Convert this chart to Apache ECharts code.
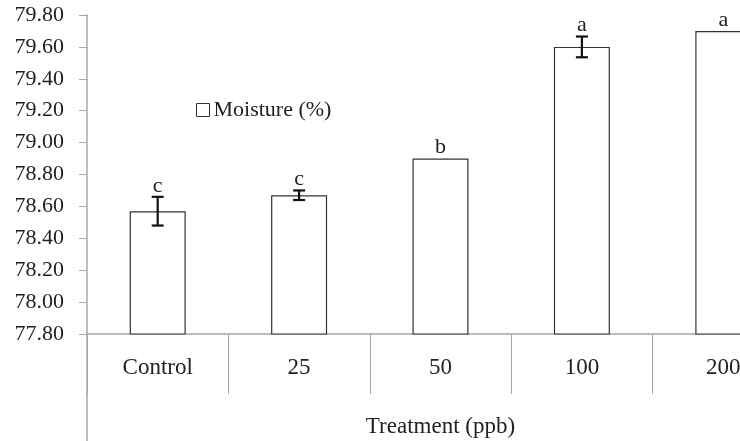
<!DOCTYPE html>
<html>
<head>
<meta charset="utf-8">
<script src="https://cdn.jsdelivr.net/npm/echarts@6/dist/echarts.min.js"></script>
<style>
  html, body { margin: 0; padding: 0; background: #fff; }
  #chart { width: 740px; height: 441px; }
</style>
</head>
<body>
<div id="chart"></div>
<script>
// data
const categories = ['Control', '25', '50', '100', '200']
const moisture = [78.57, 78.67, 78.90, 79.60, 79.70]
const moistureErr = [0.09, 0.03, 0, 0.065, 0]
const letters = ['c', 'c', 'b', 'a', 'a']

const font = 'Liberation Serif'
const axisGray = '#a6a6a6'

const chart = echarts.init(document.getElementById('chart'))

const option = {
  backgroundColor: '#fff',
  animation: false,
  textStyle: { fontFamily: font },
  grid: {
    left: 87,
    top: 15,
    width: 707,
    bottom: 107,
    outerBoundsMode: 'none',
  },
  legend: {
    left: 196,
    top: 99,
    padding: 0,
    itemWidth: 13,
    itemHeight: 13,
    icon: 'rect',
    data: ['Moisture (%)'],
    itemStyle: { color: '#fff', borderColor: '#333', borderWidth: 1 },
    textStyle: { fontFamily: font, fontSize: 22, color: '#222', padding: [0, 0, 0, -1] },
  },
  xAxis: {
    type: 'category',
    data: categories,
    name: 'Treatment (ppb)',
    nameLocation: 'middle',
    nameGap: 93,
    nameTextStyle: { fontFamily: font, fontSize: 23, color: '#222', verticalAlign: 'middle' },
    axisLine: { lineStyle: { color: axisGray, width: 1.5 } },
    axisTick: { show: true, interval: 0, length: 60, lineStyle: { color: axisGray, width: 1 } },
    axisLabel: { margin: 22, fontFamily: font, fontSize: 23, color: '#222' },
  },
  yAxis: {
    type: 'value',
    min: 77.8,
    max: 79.8,
    interval: 0.2,
    axisLine: { show: true, lineStyle: { color: axisGray, width: 1.5 } },
    axisTick: { show: true, length: 8, lineStyle: { color: axisGray } },
    splitLine: { show: false },
    axisLabel: {
      margin: 23,
      fontFamily: font,
      fontSize: 22,
      color: '#222',
      formatter: (v) => v.toFixed(2),
    },
  },
  graphic: [
    {
      type: 'line',
      shape: { x1: 87, y1: 334, x2: 87, y2: 441 },
      style: { stroke: axisGray, lineWidth: 1.5 },
    },
  ],
  series: [
    {
      name: 'Moisture (%)',
      type: 'bar',
      data: moisture,
      barWidth: 56,
      itemStyle: { color: '#fff', borderColor: '#333', borderWidth: 1.2 },
    },
    {
      type: 'custom',
      data: moisture.map((v, i) => [i, v, moistureErr[i]]),
      z: 10,
      renderItem(params, api) {
        const i = api.value(0)
        const v = api.value(1)
        const e = api.value(2)
        const hi = api.coord([i, v + e])
        const lo = api.coord([i, v - e])
        const x = hi[0]
        const children = []
        if (e > 0) {
          const s = { stroke: '#111', lineWidth: 2.2 }
          children.push(
            { type: 'line', shape: { x1: x, y1: hi[1], x2: x, y2: lo[1] }, style: s },
            { type: 'line', shape: { x1: x - 6, y1: hi[1], x2: x + 6, y2: hi[1] }, style: s },
            { type: 'line', shape: { x1: x - 6, y1: lo[1], x2: x + 6, y2: lo[1] }, style: s },
          )
        }
        children.push({
          type: 'text',
          x: x,
          y: hi[1] - 11,
          style: {
            text: letters[params.dataIndex],
            fontFamily: font,
            fontSize: 22,
            fill: '#222',
            align: 'center',
            verticalAlign: 'middle',
          },
        })
        return { type: 'group', children }
      },
    },
  ],
}

chart.setOption(option)
</script>
</body>
</html>
